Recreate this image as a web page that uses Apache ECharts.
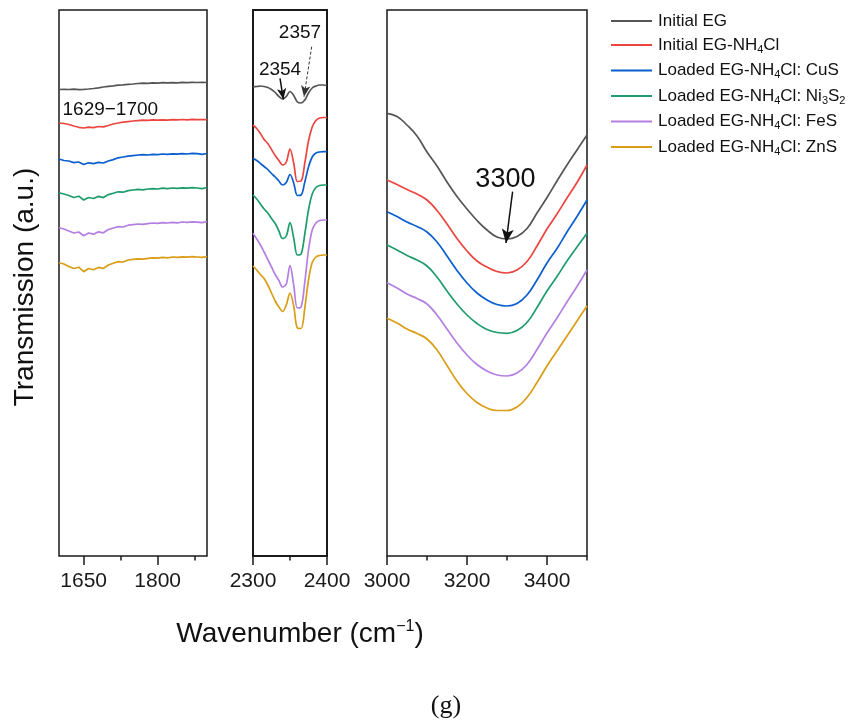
<!DOCTYPE html>
<html><head><meta charset="utf-8">
<script src="https://cdn.jsdelivr.net/npm/echarts@6.0.0/dist/echarts.min.js"></script>
<style>html,body{margin:0;padding:0;background:#fff}#c{width:854px;height:722px}</style>
</head><body><div id="c"></div>
<script>
// ---------- data ----------
const seriesNames = ['Initial EG','Initial EG-NH4Cl','Loaded EG-NH4Cl: CuS','Loaded EG-NH4Cl: Ni3S2','Loaded EG-NH4Cl: FeS','Loaded EG-NH4Cl: ZnS'];
const legendLabels = ['Initial EG','Initial EG-NH{sub|4}Cl','Loaded EG-NH{sub|4}Cl: CuS','Loaded EG-NH{sub|4}Cl: Ni{sub|3}S{sub|2}','Loaded EG-NH{sub|4}Cl: FeS','Loaded EG-NH{sub|4}Cl: ZnS'];
const seriesColors = ['#555555','#ec4540','#0a5fd0','#1e9c6c','#b47fe2','#d99d16'];

// panel 1 : 1600-1900 cm-1
const wn1 = [1600,1610,1620,1630,1640,1650,1660,1670,1680,1690,1700,1710,1720,1730,1740,1750,1760,1770,1780,1790,1800,1810,1820,1830,1840,1850,1860,1870,1880,1890,1900];
const eg1   = [466.5,466.7,466.5,466.8,466.4,466.6,467.0,467.5,468.2,469.0,469.7,470.2,470.8,471.2,471.7,472.0,472.5,472.8,472.7,473.1,472.9,473.3,473.1,473.4,473.2,473.6,473.4,473.7,473.5,473.6,473.5];
const egnh1 = [433.0,432.5,431.5,430.0,428.7,428.0,428.8,428.4,429.5,429.1,430.5,432.0,433.0,433.8,434.4,435.0,435.4,435.8,435.6,436.1,435.8,436.2,435.9,436.4,436.1,436.5,436.2,436.6,436.3,436.5,436.4];
const cus1  = [397.0,395.5,395.0,393.4,394.0,391.5,393.2,392.4,393.6,393.0,395.0,396.4,398.2,399.0,399.8,400.4,401.0,401.4,401.0,401.7,401.4,402.0,401.6,402.2,401.8,402.4,402.0,402.6,402.4,401.6,402.5];
const ni1   = [363.3,362.0,360.5,358.5,359.8,356.0,358.5,357.5,359.6,358.4,361.4,362.8,364.2,363.8,365.4,366.0,366.6,366.2,367.0,367.4,367.0,367.8,367.4,368.0,367.6,368.2,367.8,368.4,368.0,367.4,368.5];
const fes1  = [328.3,327.0,325.0,323.0,324.0,320.3,323.0,321.8,324.2,323.2,326.5,328.0,329.4,329.0,330.8,331.4,332.0,331.6,332.4,333.0,332.6,333.4,333.0,333.6,333.2,334.0,333.6,334.2,333.8,333.4,334.3];
const zns1  = [293.3,292.0,289.5,287.5,288.8,284.3,287.5,286.2,288.6,287.6,291.0,292.8,294.4,294.0,296.0,296.6,297.2,296.8,297.6,298.2,297.8,298.6,298.2,299.0,298.6,299.2,298.8,299.4,299.0,298.6,299.3];

// panel 2 : 2300-2400 cm-1
const wn2 = [2300,2305,2310,2315,2320,2325,2330,2335,2340,2345,2350,2355,2360,2365,2370,2375,2380,2385,2390,2395,2400];
const eg2   = [469,469.5,470,469.5,468.5,466.5,463.5,459.5,457,459.5,464.5,460.5,454,453,456,463,468,470,471,471,470.5];
const egnh2 = [431,427.5,422.5,416.5,412.5,406.5,400.5,395.5,391,394,407,393,374.5,375,393,415,429,435.5,438,438.5,438.5];
const cus2  = [397.7,395.5,392.5,389.5,386.5,382.5,379,375,371,373.5,381.5,373,360.5,361,374,389,399,403,404,404.3,404.3];
const ni2   = [361,357,352,347,343,337.5,332.5,325,317.5,320,333.5,318,301,302,322,346,362,368.5,370.5,371,371];
const fes2  = [322.7,317,311,304,296.5,289,281.5,275.5,269,272,290.5,271,248,249,274,306,326,333,335.5,336,336];
const zns2  = [290,286,281.5,277.5,271,263,255,249,244.5,251,263,250,228,227.5,248,276,293.5,299,300.5,301,301];

// panel 3 : 3000-3500 cm-1
const wn3 = [3000,3025,3050,3075,3100,3125,3150,3175,3200,3225,3250,3275,3300,3325,3350,3375,3400,3425,3450,3475,3500];
const eg3   = [442.7,439.5,431,420,404,390,374,359.5,347,335.5,326,319,317,319.5,327.5,343,358.5,375,391,406,421];
const egnh3 = [376,371.5,366.5,362,356,345.5,332,317.5,305,295,289,284.5,283,286,294.5,310,327,342,358,373.5,391];
const cus3  = [344.3,339.5,334,329.5,324,314,300,285.5,273,263,256,251.5,250,252.5,261,276,293,307.5,324,339.5,356];
const ni3   = [311,306,300.5,296,290,279,265,252,241,232.5,226.5,223.5,222.7,225.5,233.5,248.5,265,279.5,295,309,322.7];
const fes3  = [273.3,268,262,257.5,252,241,227,213,201,191.5,185,181,180,183,191.5,206.5,223,238,254,269.5,286];
const zns3  = [237.7,233,227,222.5,217,206,190.5,175,162.5,153.5,148,145.5,145.5,149,158.5,173.5,190,205,220,235,250];

// axis ticks / labels
const ranges = [[1600,1900],[2300,2400],[3000,3500]];
const majorTicks = [[1650,1800],[2300,2400],[3000,3200,3400]];
const minorTicks = [[1725,1875],[2350],[3100,3300,3500]];

// ---------- build ----------
const FONT = 'Liberation Sans, Arial, sans-serif';
const panels = [
  {wn: wn1, ys: [eg1,egnh1,cus1,ni1,fes1,zns1], smooth: false},
  {wn: wn2, ys: [eg2,egnh2,cus2,ni2,fes2,zns2], smooth: 0.35},
  {wn: wn3, ys: [eg3,egnh3,cus3,ni3,fes3,zns3], smooth: 0.45}
];
const grids = [
  {left: 59, width: 148, top: 10, height: 546},
  {left: 253, width: 74, top: 10, height: 546},
  {left: 387, width: 200, top: 10, height: 546}
].map((g, i) => Object.assign(g, {show: true, borderColor: '#1a1a1a', borderWidth: i === 1 ? 2 : 1.5, backgroundColor: 'transparent'}));

const xAxes = [], yAxes = [];
ranges.forEach((r, i) => {
  xAxes.push({type: 'value', gridIndex: i, min: r[0], max: r[1], position: 'bottom',
    axisLine: {show: false}, splitLine: {show: false},
    axisTick: {show: true, customValues: majorTicks[i], length: 9, lineStyle: {color: '#1a1a1a', width: 1.5}},
    axisLabel: {show: true, customValues: majorTicks[i], formatter: v => String(v), fontSize: 21, fontFamily: FONT, color: '#1a1a1a', margin: 15}
  });
  xAxes.push({type: 'value', gridIndex: i, min: r[0], max: r[1], position: 'bottom',
    axisLine: {show: false}, splitLine: {show: false},
    axisTick: {show: true, customValues: minorTicks[i], length: 4.5, lineStyle: {color: '#1a1a1a', width: 1.5}},
    axisLabel: {show: false}
  });
  yAxes.push({type: 'value', gridIndex: i, min: 0, max: 546, show: false, splitLine: {show: false}});
});

const series = [];
panels.forEach((p, pi) => {
  p.ys.forEach((arr, si) => {
    series.push({
      type: 'line', name: seriesNames[si], xAxisIndex: pi * 2, yAxisIndex: pi,
      data: p.wn.map((x, k) => [x, arr[k]]),
      symbol: 'none', smooth: p.smooth, silent: true, animation: false,
      lineStyle: {width: 1.7, color: seriesColors[si]}, itemStyle: {color: seriesColors[si]}
    });
  });
});

// annotations (in data coordinates)
const annoLabel = (coord, text, size) => ({coord, value: text, symbol: 'circle', symbolSize: 0,
  itemStyle: {color: 'transparent'},
  label: {show: true, position: 'inside', formatter: text, fontSize: size, fontFamily: FONT, color: '#111'}});
// panel 1 (gray series index 0)
series[0].markPoint = {silent: true, animation: false, data: [annoLabel([1704, 446], '1629\u22121700', 19)]};
// panel 2 (gray series index 6)
series[6].markPoint = {silent: true, animation: false, data: [annoLabel([2363.5, 523], '2357', 19), annoLabel([2336.5, 486], '2354', 19)]};
series[6].markLine = {silent: true, animation: false, symbolSize: [7, 11], label: {show: false},
  data: [
    [{coord: [2336.5, 477.7], symbol: 'none', lineStyle: {color: '#111', width: 1.5, type: 'solid'}}, {coord: [2341, 456.7], symbol: 'arrow'}],
    [{coord: [2379.3, 509.3], symbol: 'none', lineStyle: {color: '#333', width: 1, type: [3, 2]}}, {coord: [2368.9, 459.3], symbol: 'arrow'}]
  ]};
// panel 3 (gray series index 12)
series[12].markPoint = {silent: true, animation: false, data: [annoLabel([3296, 376], '3300', 27)]};
series[12].markLine = {silent: true, animation: false, symbolSize: [9, 14], label: {show: false},
  data: [
    [{coord: [3314, 364.3], symbol: 'none', lineStyle: {color: '#111', width: 1.5, type: 'solid'}}, {coord: [3297.5, 313], symbol: 'arrow'}]
  ]};

const chart = echarts.init(document.getElementById('c'), null, {renderer: 'canvas'});
chart.setOption({
  backgroundColor: '#ffffff',
  animation: false,
  grid: grids,
  xAxis: xAxes,
  yAxis: yAxes,
  series: series,
  legend: {
    data: seriesNames, orient: 'vertical', left: 606, top: 7.5,
    icon: 'rect', itemWidth: 41, itemHeight: 2, itemGap: 7,
    selectedMode: false,
    formatter: name => legendLabels[seriesNames.indexOf(name)],
    textStyle: {fontSize: 17, fontFamily: FONT, color: '#111', padding: [0, 0, 0, 1],
      rich: {sub: {fontSize: 11, fontFamily: FONT, color: '#111', padding: [9, 0, 0, 0]}}}
  },
  graphic: [
    {type: 'text', x: 25, y: 287, rotation: Math.PI / 2,
      style: {text: 'Transmission (a.u.)', fontSize: 28, fontFamily: FONT, fill: '#111', align: 'center', verticalAlign: 'middle'}},
    {type: 'text', x: 300, y: 634,
      style: {text: 'Wavenumber (cm{sup|\u22121})', fontSize: 28, fontFamily: FONT, fill: '#111', align: 'center', verticalAlign: 'middle',
        rich: {sup: {fontSize: 16, fontFamily: FONT, fill: '#111', padding: [0, 0, 14, 0]}}}},
    {type: 'text', x: 446, y: 706,
      style: {text: '(g)', fontSize: 26, fontFamily: 'Liberation Serif, Times New Roman, serif', fill: '#111', align: 'center', verticalAlign: 'middle'}}
  ]
});
</script>
</body></html>
